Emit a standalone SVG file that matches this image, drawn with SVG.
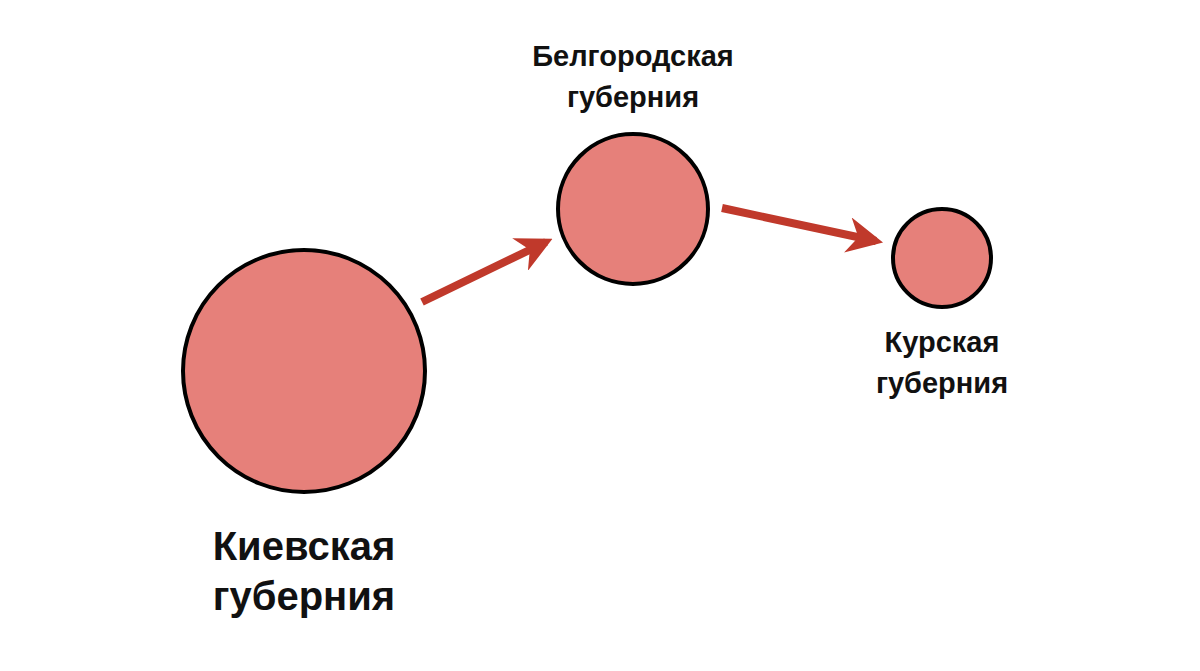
<svg xmlns="http://www.w3.org/2000/svg" width="1200" height="671" viewBox="0 0 1200 671">
<style>
.n{fill:#E6807A;stroke:#000;stroke-width:4}
.t{font-family:"Liberation Sans",Arial,sans-serif;font-weight:bold;fill:#111;text-anchor:middle}
.c{stroke:#C0392B;stroke-width:8;fill:none}
</style>
<defs><marker id="a" viewBox="0 0 10 10" refX="8" refY="5" markerWidth="4.5" markerHeight="4.5" orient="auto" markerUnits="strokeWidth"><path d="M0,0L10,5L0,10L3,5z" fill="#C0392B"/></marker></defs>
<rect width="1200" height="671" fill="#fff"/>
<g id="connectors">
<line class="c" x1="422" y1="302" x2="546" y2="242" marker-end="url(#a)"/>
<line class="c" x1="722" y1="208" x2="876" y2="241" marker-end="url(#a)"/>
</g>
<g id="kiev"><circle class="n" cx="304" cy="371" r="121"/><text class="t" font-size="40" x="304" y="560">Киевская</text><text class="t" font-size="40" x="304" y="610">губерния</text></g>
<g id="belgorod"><circle class="n" cx="633" cy="209" r="75"/><text class="t" font-size="29" x="633" y="66">Белгородская</text><text class="t" font-size="29" x="633" y="107">губерния</text></g>
<g id="kursk"><circle class="n" cx="942" cy="258" r="49"/><text class="t" font-size="29" x="942" y="352">Курская</text><text class="t" font-size="29" x="942" y="393">губерния</text></g>
</svg>
